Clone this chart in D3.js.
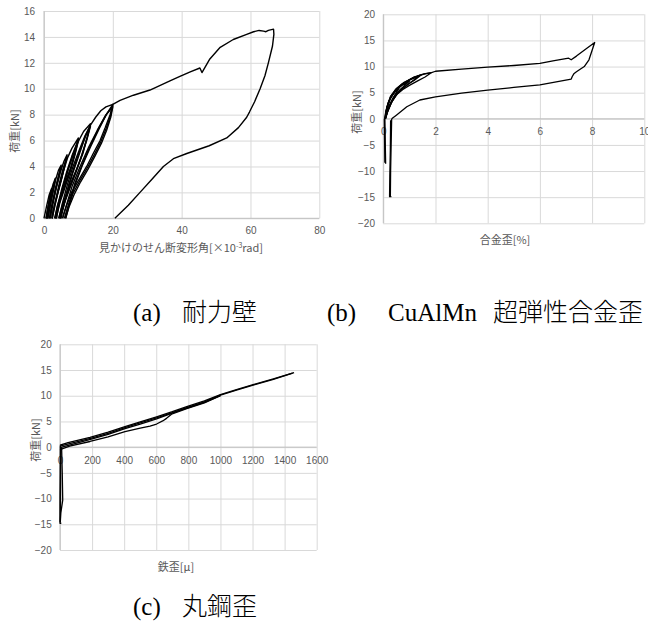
<!DOCTYPE html>
<html>
<head>
<meta charset="utf-8">
<script src="https://cdn.jsdelivr.net/npm/d3@7"></script>
<style>
  body { margin: 0; background: #fff; }
  svg { display: block; }
</style>
</head>
<body>
<svg id="chart" width="648" height="624"></svg>
<script>
// ---- data: (a) wall, load [kN] vs apparent shear angle [x10^-3 rad]
var wallTicksX = [0, 20, 40, 60, 80];
var wallTicksY = [0, 2, 4, 6, 8, 10, 12, 14, 16];

var wallCycle1  = [[0,0],[0.8,1.0],[1.5,1.8],[2.2,2.3],[1.9,1.8],[1.4,1.1],[0.9,0.4],[0.6,0]];
var wallCycle1b = [[0.6,0],[1.1,0.8],[1.7,1.6],[2.2,2.2],[1.8,1.6],[1.3,0.9],[0.9,0.3],[0.7,0]];
var wallCycle2  = [[0.7,0],[1.3,1.0],[1.9,1.9],[2.6,2.6],[3.3,3.1],[2.9,2.5],[2.3,1.7],[1.7,0.9],[1.2,0.3],[1.0,0]];
var wallCycle2b = [[1.0,0],[1.6,0.9],[2.3,1.9],[3.3,3.0],[2.8,2.3],[2.2,1.5],[1.6,0.7],[1.1,0]];
var wallCycle3  = [[1.1,0],[1.7,1.0],[2.5,2.0],[3.4,3.0],[4.2,3.7],[5.0,4.1],[4.6,3.6],[3.8,2.7],[2.9,1.7],[2.1,0.8],[1.7,0.2],[1.6,0]];
var wallCycle3b = [[1.6,0],[2.3,1.0],[3.2,2.2],[4.2,3.3],[5.0,4.0],[4.5,3.4],[3.6,2.4],[2.7,1.4],[2.0,0.5],[1.8,0]];
var wallCycle4  = [[1.8,0],[2.6,1.1],[3.6,2.4],[4.8,3.6],[5.8,4.4],[6.7,4.9],[6.2,4.3],[5.3,3.3],[4.3,2.3],[3.3,1.3],[2.6,0.5],[2.3,0]];
var wallCycle4b = [[2.3,0],[3.1,1.0],[4.2,2.4],[5.4,3.7],[6.7,4.8],[6.1,4.1],[5.1,3.0],[4.0,1.9],[3.0,0.9],[2.5,0.2],[2.4,0]];
var wallCycle5  = [[2.4,0],[3.2,1.0],[4.3,2.3],[5.6,3.6],[6.9,4.7],[8.1,5.4],[9.5,6.0],[10.0,6.2],[9.2,5.3],[7.9,4.0],[6.5,3.0],[5.1,2.0],[3.9,1.0],[3.3,0.2],[3.1,0]];
var wallCycle5b = [[3.1,0],[4.0,1.0],[5.2,2.3],[6.6,3.6],[8.1,4.8],[10.0,6.1],[9.1,5.1],[7.7,3.8],[6.2,2.6],[4.8,1.5],[3.8,0.5],[3.4,0]];
var wallCycle5c = [[3.4,0],[4.4,1.1],[5.7,2.5],[7.1,3.8],[8.6,5.0],[10.0,6.0],[9.0,4.9],[7.5,3.5],[6.0,2.3],[4.6,1.2],[3.8,0.3],[3.6,0]];
var wallCycle6  = [[3.6,0],[4.4,1.1],[5.5,2.4],[6.9,3.7],[8.4,4.9],[9.9,5.9],[11.5,6.7],[13.5,7.3],[12.6,6.3],[11.3,5.0],[9.8,4.0],[8.2,3.0],[6.7,2.0],[5.3,1.0],[4.6,0.3],[4.3,0]];
var wallCycle6b = [[4.3,0],[5.3,1.1],[6.7,2.5],[8.3,3.9],[10.0,5.1],[11.8,6.3],[13.5,7.2],[12.5,6.2],[11.0,4.9],[9.4,3.7],[7.8,2.6],[6.3,1.5],[5.2,0.6],[4.7,0]];
var wallCycle6c = [[4.7,0],[5.8,1.2],[7.2,2.6],[8.8,4.0],[10.5,5.3],[12.1,6.4],[13.5,7.1],[12.4,6.0],[10.8,4.7],[9.2,3.5],[7.6,2.4],[6.1,1.3],[5.1,0.4],[4.9,0]];
var wallCycle7  = [[4.9,0],[5.8,1.0],[7.0,2.3],[8.5,3.6],[10.2,4.9],[12.0,6.3],[13.5,7.2],[15.0,7.8],[16.5,8.3],[18.0,8.6],[20.0,8.8],[19.2,8.0],[17.8,7.0],[16.3,6.0],[14.3,5.0],[12.4,4.0],[10.2,3.0],[8.0,2.0],[6.6,1.0],[5.7,0.3],[5.4,0]];
var wallCycle7b = [[5.4,0],[6.5,1.0],[8.2,2.5],[10.5,4.0],[13.0,5.5],[15.5,6.8],[17.8,7.9],[20.0,8.7],[19.3,7.9],[18.0,6.9],[16.5,5.9],[14.6,4.9],[12.6,3.9],[10.4,2.9],[8.4,1.9],[7.0,0.9],[6.2,0.2],[6.0,0]];
var wallCycle7c = [[6.0,0],[7.2,1.1],[9.0,2.7],[11.2,4.2],[13.6,5.7],[16.0,7.0],[18.1,8.0],[20.0,8.6],[19.4,7.8],[18.2,6.8],[16.7,5.8],[14.8,4.8],[12.8,3.8],[10.6,2.8],[8.7,1.8],[7.3,0.9],[6.5,0.2],[6.3,0]];
var wallFinal   = [[6.3,0],[7.3,1.0],[8.9,2.5],[11.0,4.0],[13.5,5.5],[16.0,6.9],[18.1,8.0],[20.0,8.8],[22.1,9.1],[26,9.5],[30.8,9.9],
                   [36.6,10.6],[39.5,10.95],[42.5,11.3],[45.3,11.6],[45.9,11.25],[48.2,12.3],[51.2,13.2],[55,13.8],[58.9,14.2],
                   [60.9,14.4],[62.5,14.5],[63.8,14.45],[64.5,14.4],[65.2,14.5],[66.7,14.6],[66.8,14.2],[66.4,13.3],[65.2,12.0],
                   [64.2,11.0],[62.8,10.0],[61.2,9.0],[59.7,8.2],[58.9,7.8],[56.5,7.0],[53.1,6.2],[48,5.6],[41.5,5.0],[37.6,4.6],
                   [34.7,4.0],[31.3,3.0],[27.9,2.0],[24.5,1.0],[20.6,0]];

// ---- data: (b) CuAlMn alloy, load [kN] vs strain [%]
var alloyTicksX = [0, 2, 4, 6, 8, 10];
var alloyTicksY = [-20, -15, -10, -5, 0, 5, 10, 15, 20];

var alloyLoop1 = [[0.05,0],[0.1,1.5],[0.18,3.0],[0.3,4.3],[0.45,5.2],[0.6,5.8],[0.5,5.0],[0.35,3.8],[0.2,2.2],[0.1,0.8],[0.06,0]];
var alloyLoop2 = [[0.06,0],[0.12,1.8],[0.22,3.4],[0.35,4.6],[0.52,5.6],[0.75,6.5],[1.0,7.2],[0.85,6.5],[0.65,5.6],[0.45,4.5],[0.28,3.0],[0.14,1.2],[0.07,0]];
var alloyLoop3 = [[0.07,0],[0.13,1.9],[0.25,3.7],[0.45,5.3],[0.7,6.5],[1.0,7.4],[1.4,8.3],[1.2,7.5],[0.95,6.6],[0.7,5.6],[0.5,4.6],[0.3,3.0],[0.15,1.2],[0.08,0]];
var alloyLoop3b = [[0.08,0],[0.14,2.0],[0.27,3.9],[0.48,5.5],[0.73,6.7],[1.05,7.6],[1.45,8.4],[1.25,7.6],[1.0,6.8],[0.74,5.8],[0.52,4.8],[0.32,3.2],[0.16,1.3],[0.08,0]];
var alloyLoop4 = [[0.08,0],[0.14,2.2],[0.27,4.2],[0.46,5.5],[0.78,6.8],[1.17,8.0],[1.55,8.6],[1.85,8.85],[1.6,8.0],[1.3,7.2],[1.0,6.4],[0.75,5.6],[0.55,4.8],[0.35,3.5],[0.18,1.6],[0.08,0]];
var alloyFinal = [[0.08,0],[0.15,2.3],[0.28,4.3],[0.5,5.8],[0.8,7.0],[1.2,8.0],[1.6,8.6],[1.85,8.85],[2.0,9.1],[3.0,9.5],[4.0,9.9],
                  [5.0,10.2],[6.0,10.6],[6.5,11.1],[7.1,11.6],[7.2,11.3],[7.4,12.0],[7.8,13.5],[8.1,14.6],[7.88,11.3],[7.7,10.0],
                  [7.4,9.0],[7.3,8.6],[7.24,8.1],[7.2,7.6],[6.0,6.5],[5.0,6.0],[4.0,5.5],[3.0,4.9],[2.0,4.2],[1.4,3.6],[0.9,2.3],
                  [0.5,0.7],[0.32,0]];
var alloyNegA  = [[0.06,0],[0.07,-3],[0.08,-6],[0.09,-8.6]];
var alloyNegA2 = [[0.04,0],[0.05,-4],[0.06,-8.4]];
var alloyNegB  = [[0.32,0],[0.3,-5],[0.28,-10],[0.27,-14.9]];
var alloyNegB2 = [[0.28,-0.3],[0.27,-6],[0.25,-11],[0.24,-14.9],[0.31,-14.9]];

// ---- data: (c) round steel bar, load [kN] vs strain [μ]
var steelTicksX = [0, 200, 400, 600, 800, 1000, 1200, 1400, 1600];
var steelTicksY = [-20, -15, -10, -5, 0, 5, 10, 15, 20];

var steelUp   = [[0,0.4],[50,0.9],[187,1.9],[300,2.9],[405,4.0],[500,4.9],[602,5.9],[700,6.9],[790,7.9],[900,9.0],[1000,10.2],[1100,11.2],[1209,12.2],[1330,13.3],[1459,14.5]];
var steelUp2  = [[0,0.2],[60,0.7],[190,1.7],[300,2.7],[405,3.8],[500,4.7],[602,5.7],[700,6.7],[790,7.7],[900,8.8],[1000,10.1],[1100,11.1],[1209,12.1],[1330,13.2],[1450,14.4]];
var steelUp3  = [[0,-0.1],[70,0.5],[190,1.5],[300,2.5],[405,3.6],[500,4.5],[602,5.5],[700,6.6],[790,7.6],[900,8.7],[1000,10.0]];
var steelLow  = [[0,-0.5],[60,0.2],[187,1.1],[300,2.0],[405,3.0],[500,3.7],[561,4.1],[602,4.5],[640,5.1],[664,5.6],[695,6.4],[790,7.5],[900,8.6],[1000,10.0]];
var steelNegA = [[2,0.3],[1,-5],[0,-10],[0,-14.8],[8,-14.8]];
var steelNegA2 = [[5,0],[4,-6],[3,-12],[2,-14.6]];
var steelNegB = [[10,0],[14,-5],[17,-10.3],[5,-12.8],[2,-14.5]];

// ---- drawing
var svg = d3.select("#chart");
var tickFont = "'Liberation Sans', Arial, sans-serif";
var cjkFont = "'Noto Sans CJK JP', 'Noto Sans', sans-serif";
var grey = "#595959";

function drawPanel(p) {
    var x = d3.scaleLinear().domain(p.xDomain).range([p.left, p.right]);
    var y = d3.scaleLinear().domain(p.yDomain).range([p.bottom, p.top]);

    // vertical gridlines
    svg.append("g")
        .attr("transform", "translate(0," + p.bottom + ")")
        .call(d3.axisBottom(x).tickValues(p.xTicks).tickSize(-(p.bottom - p.top)).tickFormat(""))
        .call(g => g.select(".domain").remove())
        .call(g => g.selectAll("line").attr("stroke", "#d9d9d9"));

    // horizontal gridlines
    svg.append("g")
        .attr("transform", "translate(" + p.left + ",0)")
        .call(d3.axisLeft(y).tickValues(p.yTicks).tickSize(-(p.right - p.left)).tickFormat(""))
        .call(g => g.select(".domain").remove())
        .call(g => g.selectAll("line").attr("stroke", "#d9d9d9"));

    // axis lines
    var y0 = y(Math.max(0, p.yDomain[0]));
    svg.append("line")
        .attr("x1", p.left).attr("x2", p.right).attr("y1", y0).attr("y2", y0)
        .attr("stroke", "#bfbfbf");
    svg.append("line")
        .attr("x1", p.left).attr("x2", p.left).attr("y1", p.top).attr("y2", p.bottom)
        .attr("stroke", "#bfbfbf");

    // tick labels
    svg.append("g")
        .attr("transform", "translate(0," + p.xLabelY + ")")
        .call(d3.axisBottom(x).tickValues(p.xTicks).tickSize(0).tickPadding(0).tickFormat(d3.format("d")))
        .call(g => g.select(".domain").remove())
        .call(g => g.selectAll("text").attr("y", 0).attr("dy", "0.35em")
            .attr("fill", grey).attr("font-family", tickFont).attr("font-size", 10));
    svg.append("g")
        .attr("transform", "translate(" + p.yLabelX + ",0)")
        .call(d3.axisLeft(y).tickValues(p.yTicks).tickSize(0).tickPadding(0).tickFormat(d3.format("d")))
        .call(g => g.select(".domain").remove())
        .call(g => g.selectAll("text").attr("fill", grey).attr("font-family", tickFont).attr("font-size", 10));

    // axis titles
    var xt = svg.append("text")
        .attr("x", p.xTitleX).attr("y", p.xTitleY).attr("dy", "0.35em")
        .attr("text-anchor", "middle")
        .attr("font-family", cjkFont).attr("font-size", 11).attr("fill", grey);
    p.xTitle(xt);
    svg.append("text")
        .attr("transform", "translate(" + p.yTitleX + "," + p.yTitleY + ") rotate(-90)")
        .attr("dy", "0.35em")
        .attr("text-anchor", "middle")
        .attr("font-family", cjkFont).attr("font-size", 11).attr("fill", grey)
        .text("荷重[kN]");

    // series
    var line = d3.line().x(d => x(d[0])).y(d => y(d[1]));
    svg.append("g").selectAll("path")
        .data(p.series)
        .enter()
        .append("path")
        .attr("d", line)
        .attr("fill", "none")
        .attr("stroke", "#000")
        .attr("stroke-width", p.lineWidth)
        .attr("stroke-linejoin", "round");
}

drawPanel({
    left: 44, right: 319.3, top: 11, bottom: 218.3,
    xDomain: [0, 80], yDomain: [0, 16], xTicks: wallTicksX, yTicks: wallTicksY,
    xLabelY: 230, yLabelX: 35,
    xTitleX: 181, xTitleY: 248, yTitleX: 15, yTitleY: 131,
    xTitle: t => {
        t.append("tspan").text("見かけのせん断変形角[×10");
        t.append("tspan").attr("font-size", 7).attr("dy", -4).text("-3");
        t.append("tspan").attr("dy", 4).text("rad]");
    },
    lineWidth: 1.4,
    series: [wallCycle1, wallCycle1b, wallCycle2, wallCycle2b, wallCycle3, wallCycle3b, wallCycle4, wallCycle4b,
             wallCycle5, wallCycle5b, wallCycle5c, wallCycle6, wallCycle6b, wallCycle6c,
             wallCycle7, wallCycle7b, wallCycle7c, wallFinal]
});

drawPanel({
    left: 383.3, right: 644.3, top: 14.3, bottom: 223.3,
    xDomain: [0, 10], yDomain: [-20, 20], xTicks: alloyTicksX, yTicks: alloyTicksY,
    xLabelY: 131.5, yLabelX: 375,
    xTitleX: 505, xTitleY: 240, yTitleX: 356.7, yTitleY: 112,
    xTitle: t => t.text("合金歪[%]"),
    lineWidth: 1.3,
    series: [alloyLoop1, alloyLoop2, alloyLoop3, alloyLoop3b, alloyLoop4, alloyFinal, alloyNegA, alloyNegA2, alloyNegB, alloyNegB2]
});

drawPanel({
    left: 60, right: 316.7, top: 344.3, bottom: 550,
    xDomain: [0, 1600], yDomain: [-20, 20], xTicks: steelTicksX, yTicks: steelTicksY,
    xLabelY: 460, yLabelX: 51.7,
    xTitleX: 176, xTitleY: 567, yTitleX: 36, yTitleY: 440,
    xTitle: t => t.text("鉄歪[μ]"),
    lineWidth: 1.3,
    series: [steelUp, steelUp2, steelUp3, steelLow, steelNegA, steelNegA2, steelNegB]
});

// captions
function caption(parts, baseline) {
    parts.forEach(function(c) {
        svg.append("text")
            .attr("x", c.x).attr("y", baseline)
            .attr("font-family", c.cjk ? cjkFont : "'Liberation Serif', 'Times New Roman', serif")
            .attr("font-weight", c.cjk ? 300 : 400)
            .attr("font-size", 25)
            .attr("fill", "#000")
            .text(c.s);
    });
}
caption([{x: 133, s: "(a)"}, {x: 182, s: "耐力壁", cjk: true},
         {x: 327, s: "(b)"}, {x: 388, s: "CuAlMn"}, {x: 493, s: "超弾性合金歪", cjk: true}], 321);
caption([{x: 133, s: "(c)"}, {x: 182, s: "丸鋼歪", cjk: true}], 614.5);
</script>
</body>
</html>
